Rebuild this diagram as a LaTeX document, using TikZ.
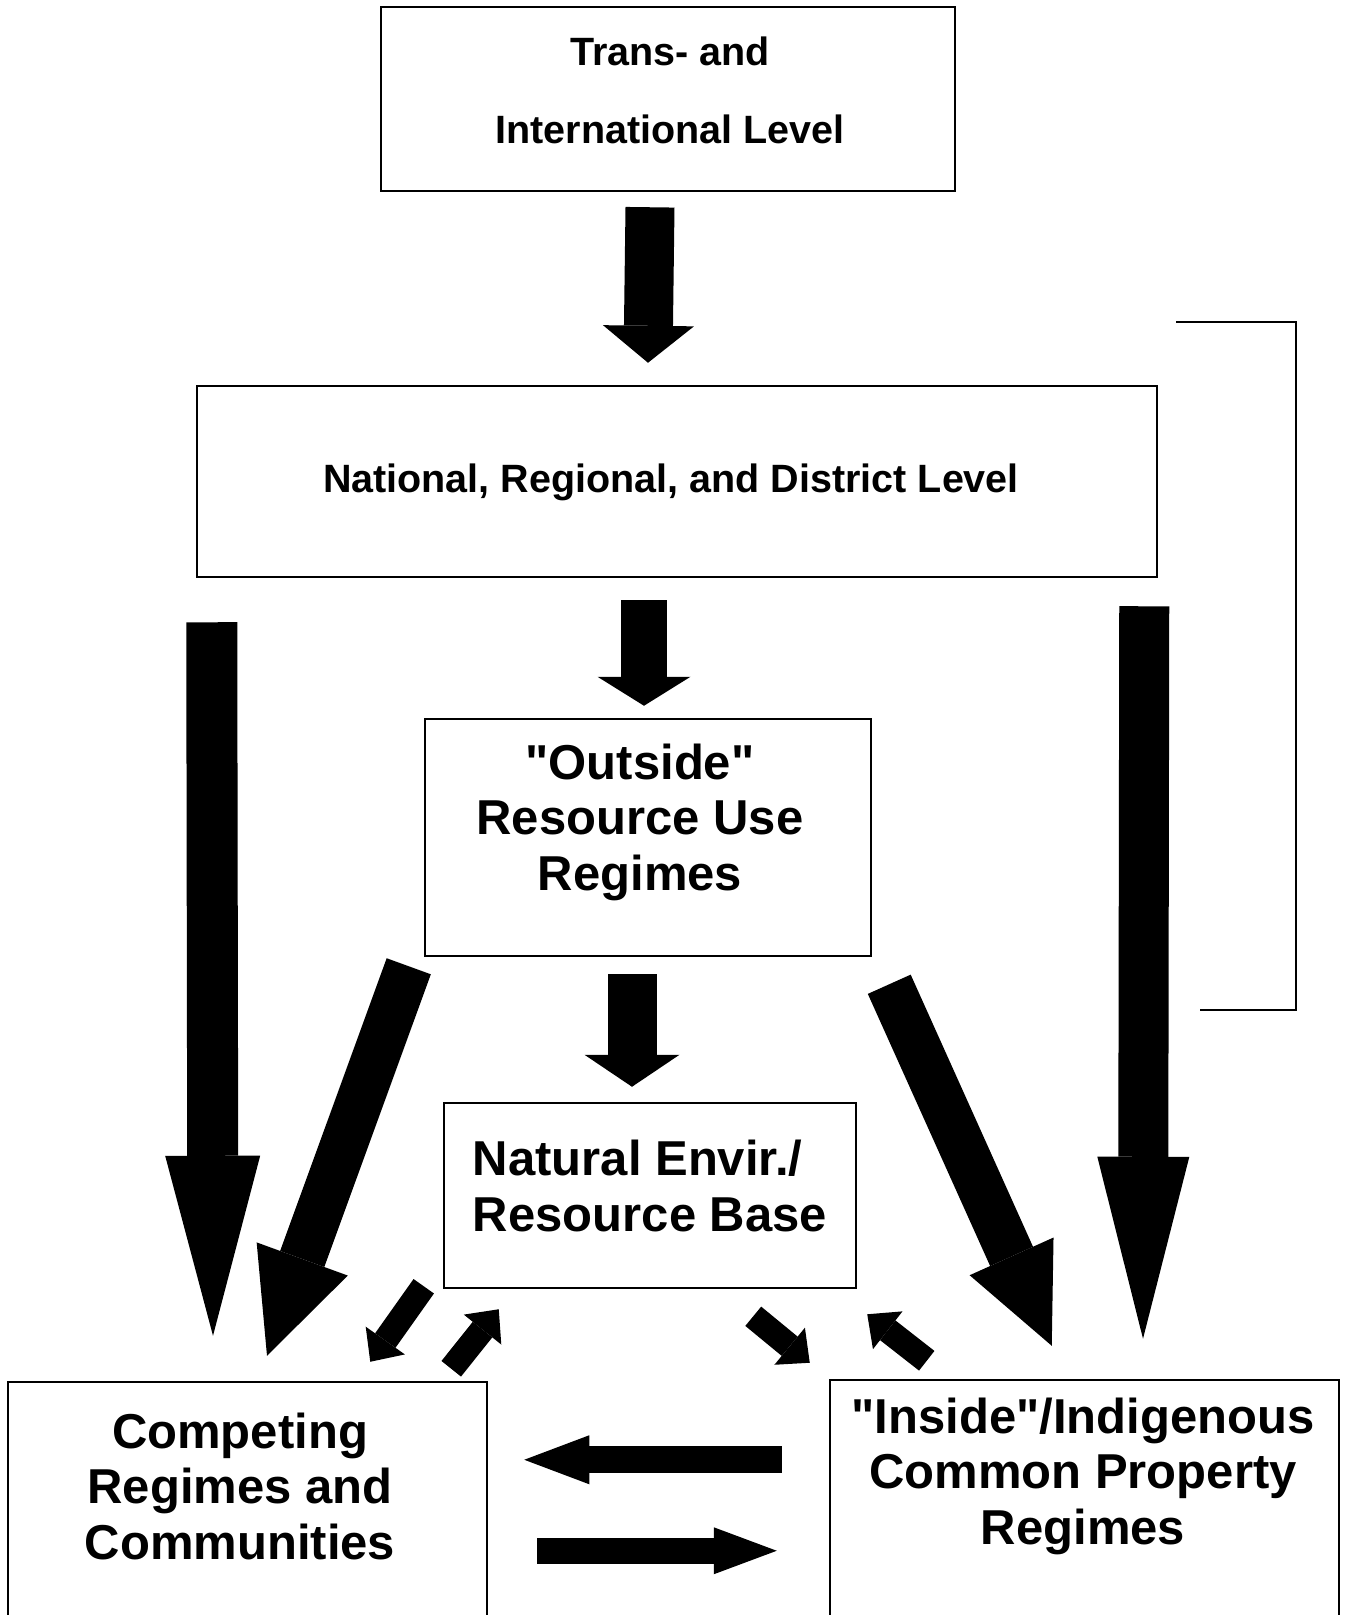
\documentclass[tikz,border=0pt]{standalone}
\usepackage{fontspec}
\setmainfont{Liberation Sans}
\usetikzlibrary{arrows.meta}

\tikzset{
  box/.style={draw,line width=2.5pt,inner sep=0pt},
  lvltext/.style={font=\bfseries\fontsize{39.5}{78}\selectfont,align=center},
  regtext/.style={font=\bfseries\fontsize{49}{55.5}\selectfont,align=center},
  fat/.style n args={3}{line width=#1,-{Triangle[width=#2,length=#3,line width=0pt]}},
  smallarrow/.style={fat={25pt}{48pt}{26pt}}
}

\begin{document}
\begin{tikzpicture}[x=1pt,y=-1pt]

  \useasboundingbox (0,0) rectangle (1347,1615);

  % boxes
  \node[box,minimum width=574pt,minimum height=184pt] (trans) at (668,99) {};
  \node[box,minimum width=960pt,minimum height=191pt] (natl) at (677,481.5) {};
  \node[box,minimum width=446pt,minimum height=237pt] (outside) at (648,837.5) {};
  \node[box,minimum width=412pt,minimum height=185pt] (natural) at (650,1195.5) {};
  \node[box,minimum width=479pt,minimum height=276pt] (comp) at (247.5,1520) {};
  \node[box,minimum width=509pt,minimum height=280pt] (inside) at (1084.5,1520) {};

  % texts
  \node[lvltext] (transtext) at (670,90) {Trans- and\\International Level};
  \node[lvltext] (natltext) at (671,482) {National, Regional, and District Level};
  \node[regtext] (outsidetext) at (640,822) {\textquotedbl Outside\textquotedbl\\Resource Use\\Regimes};
  \node[regtext,align=left] (naturaltext) at (650,1186) {Natural Envir./\\Resource Base};
  \node[regtext] (comptext) at (240,1486) {Competing\\Regimes and\\Communities};
  \node[regtext] (insidetext) at (1083,1476) {\textquotedbl Inside\textquotedbl/Indigenous\\Common Property\\Regimes};

  % big arrows
  \draw[fat={49pt}{91pt}{37pt}] ([shift={(-18,15)}]trans.south) -- ([shift={(-29,-22)}]natl.north);
  \draw[fat={46pt}{93pt}{29pt}] ([shift={(-33,22)}]natl.south) -- ([shift={(-4,-12)}]outside.north);
  \draw[fat={49pt}{95pt}{32pt}] ([shift={(-16,17)}]outside.south) -- ([shift={(-18,-15)}]natural.north);
  \draw[fat={51pt}{95pt}{180pt}] ([shift={(16,44)}]natl.south west) -- ([shift={(-34.5,-45)}]comp.north);
  \draw[fat={50pt}{92pt}{182pt}] ([shift={(-14,28)}]natl.south east) -- ([shift={(58.5,-40)}]inside.north);
  \draw[fat={47pt}{97pt}{103pt}] ([shift={(-15,9)}]outside.south west) -- ([shift={(19.5,-25)}]comp.north);
  \draw[fat={47pt}{92pt}{98pt}] ([shift={(17,27)}]outside.south east) -- ([shift={(223,-33)}]inside.north west);

  % small arrows
  \draw[smallarrow] ([shift={(-19,-3)}]natural.south west) -- ([shift={(-118,-19)}]comp.north east);
  \draw[smallarrow] ([shift={(-37,-12)}]comp.north east) -- ([shift={(56,20)}]natural.south west);
  \draw[smallarrow] ([shift={(-104,27)}]natural.south east) -- ([shift={(-19,-16)}]inside.north west);
  \draw[smallarrow] ([shift={(98,-18)}]inside.north west) -- ([shift={(10,25)}]natural.south east);

  % horizontal arrows
  \draw[fat={27pt}{49pt}{65pt}] ([shift={(-47,81)}]inside.north west) -- ([shift={(36,79)}]comp.north east);
  \draw[fat={26pt}{47pt}{63pt}] ([shift={(49,170)}]comp.north east) -- ([shift={(-52,172)}]inside.north west);

  % bracket
  \draw[line width=2.5pt] (1176,322) -| (1296,1010) -- (1200,1010);

\end{tikzpicture}
\end{document}
